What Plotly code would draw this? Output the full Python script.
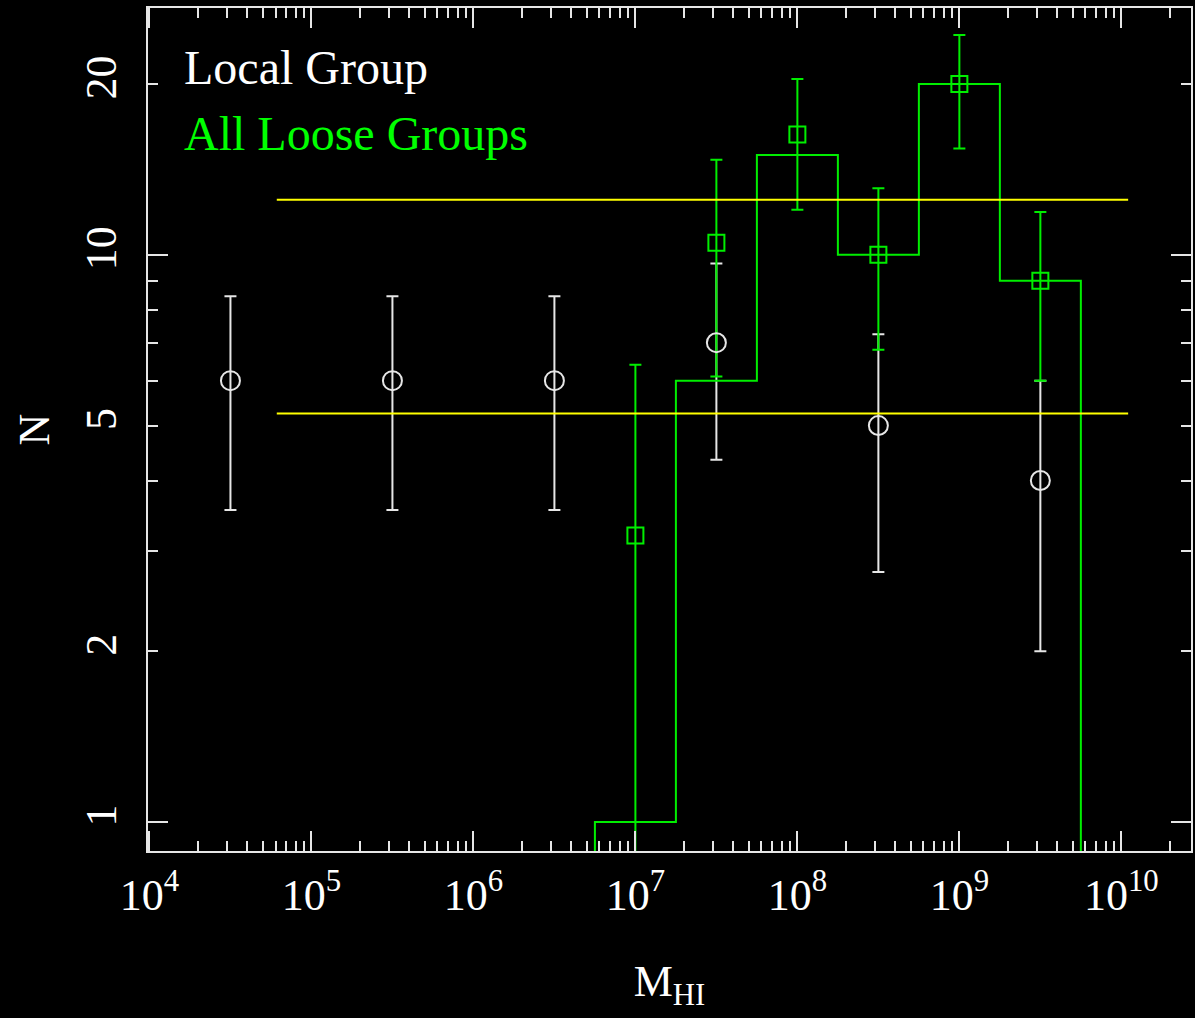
import plotly.graph_objects as go

# ---------------- data ----------------
# Local Group (white circles, Poisson errors); masses given as log10 M_HI
lg_logmass = [4.5, 5.5, 6.5, 7.5, 8.5, 9.5]
lg_count = [6, 6, 6, 7, 5, 4]
lg_err = [2.45, 2.45, 2.45, 2.65, 2.24, 2.0]

# All Loose Groups (green squares)
alg_logmass = [7.0, 7.5, 8.0, 8.5, 9.0, 9.5]
alg_count = [3.2, 10.5, 16.3, 10.0, 20.0, 9.0]
alg_err_up = [3.2, 4.2, 4.1, 3.1, 4.4, 2.9]
alg_err_down = [3.15, 4.4, 4.3, 3.2, 4.6, 3.0]

# Histogram of All Loose Groups (bin edges in log10 M_HI)
hist_edges_log = [6.75, 7.25, 7.75, 8.25, 8.75, 9.25, 9.75]
hist_counts = [1, 6, 15, 10, 20, 9]
hist_floor = 0.1  # empty bins (off the bottom of the log axis)

# Yellow reference levels
band_levels = [12.5, 5.25]
band_logmass = [4.786, 10.042]

# Axis ticks
x_tick_vals = [1e4, 1e5, 1e6, 1e7, 1e8, 1e9, 1e10]
x_tick_labels = ["10<sup>4</sup>", "10<sup>5</sup>", "10<sup>6</sup>", "10<sup>7</sup>",
                 "10<sup>8</sup>", "10<sup>9</sup>", "10<sup>10</sup>"]
y_tick_vals = [1, 2, 5, 10, 20]
y_tick_labels = ["1", "2", "5", "10", "20"]
y_minor_vals = [3, 4, 6, 7, 8, 9]
y_long_vals = [1, 10]

# ---------------- styling ----------------
FONT = "Liberation Serif"
AX = "#e6e6e6"
WHITE = "#ffffff"
GREEN = "#00ee00"
YELLOW = "#ffff00"

x_minor_vals = [m * 10 ** d for d in range(4, 11) for m in range(2, 10)]


def lin(vals):
    return [10 ** v for v in vals]


lg_mass = lin(lg_logmass)
alg_mass = lin(alg_logmass)
band_mass = lin(band_logmass)

fig = go.Figure()

# Local group error bars
fig.add_trace(go.Scatter(
    x=lg_mass, y=lg_count, mode="markers",
    marker=dict(symbol="circle-open", size=1, color="rgba(0,0,0,0)"),
    error_y=dict(type="data", array=lg_err, symmetric=True,
                 color=AX, thickness=2, width=6),
    hoverinfo="skip"))

# Histogram step line
edges = lin(hist_edges_log)
hx = [edges[0]] + edges[:-1] + [edges[-1]] * 2
hy = [hist_floor] + hist_counts + [hist_counts[-1], hist_floor]
fig.add_trace(go.Scatter(
    x=hx, y=hy, mode="lines", line=dict(color=GREEN, width=2, shape="hv"),
    hoverinfo="skip"))

# All loose groups points
fig.add_trace(go.Scatter(
    x=alg_mass, y=alg_count, mode="markers",
    marker=dict(symbol="square-open", size=16, color=GREEN, line=dict(width=2, color=GREEN)),
    error_y=dict(type="data", array=alg_err_up, arrayminus=alg_err_down, symmetric=False,
                 color=GREEN, thickness=2, width=6),
    name="All Loose Groups"))

# Local group markers on top
fig.add_trace(go.Scatter(
    x=lg_mass, y=lg_count, mode="markers",
    marker=dict(symbol="circle-open", size=19, color=AX, line=dict(width=2, color=AX)),
    name="Local Group"))

# Yellow levels (on overlay axis so they sit on top)
for lev in band_levels:
    fig.add_trace(go.Scatter(
        x=band_mass, y=[lev, lev], mode="lines", yaxis="y2",
        line=dict(color=YELLOW, width=2), hoverinfo="skip"))

yr = [-0.051, 1.435]
xr = [3.991, 10.43]

fig.update_layout(
    width=1195, height=1018,
    margin=dict(l=148, r=2, t=8, b=167),
    paper_bgcolor="black", plot_bgcolor="black",
    showlegend=False,
    font=dict(family=FONT, color=WHITE),
    xaxis=dict(
        type="log", range=xr, showgrid=False, zeroline=False,
        showline=True, linecolor=AX, linewidth=2, mirror="ticks",
        ticks="inside", ticklen=20, tickwidth=2, tickcolor=AX,
        tickvals=x_tick_vals, ticktext=x_tick_labels,
        tickfont=dict(family=FONT, size=44, color=WHITE),
        ticklabelstandoff=4,
        minor=dict(ticks="inside", ticklen=10, tickwidth=2, tickcolor=AX,
                   tickvals=x_minor_vals, showgrid=False),
        title=dict(text="M<sub>HI</sub>", font=dict(family=FONT, size=44, color=WHITE), standoff=46),
    ),
    yaxis=dict(
        type="log", range=yr, showgrid=False, zeroline=False,
        showline=True, linecolor=AX, linewidth=2, mirror="ticks",
        ticks="inside", ticklen=10, tickwidth=2, tickcolor=AX,
        tickvals=y_tick_vals, ticktext=y_tick_labels, tickangle=-90,
        tickfont=dict(family=FONT, size=44, color=WHITE),
        ticklabelstandoff=12,
        minor=dict(ticks="inside", ticklen=10, tickwidth=2, tickcolor=AX,
                   tickvals=y_minor_vals, showgrid=False),
        title=dict(text="N", font=dict(family=FONT, size=44, color=WHITE), standoff=14),
    ),
    yaxis2=dict(
        type="log", range=yr, overlaying="y", anchor="x", side="left",
        showgrid=False, zeroline=False, showline=False, mirror="ticks",
        ticks="inside", ticklen=20, tickwidth=2, tickcolor=AX,
        tickvals=y_long_vals, showticklabels=False,
    ),
    annotations=[
        dict(text="Local Group", xref="paper", yref="paper", x=0.033, y=0.930,
             xanchor="left", yanchor="middle", showarrow=False,
             font=dict(family=FONT, size=48, color=WHITE)),
        dict(text="All Loose Groups", xref="paper", yref="paper", x=0.033, y=0.851,
             xanchor="left", yanchor="middle", showarrow=False,
             font=dict(family=FONT, size=48, color="#00ff00")),
    ],
)

fig.write_html("out.html")
